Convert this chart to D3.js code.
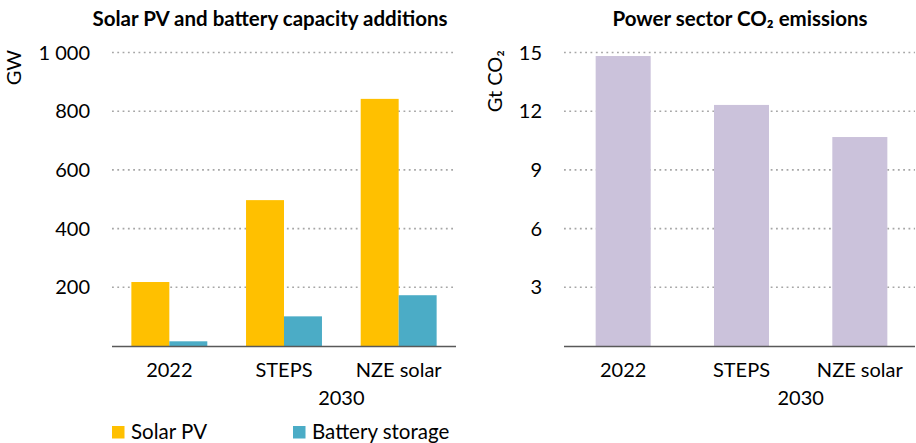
<!DOCTYPE html>
<html><head><meta charset="utf-8">
<script src="https://cdn.jsdelivr.net/npm/d3@7"></script>
<style>
body{margin:0;background:#fff;}
text{font-family:"Lato","Open Sans",sans-serif;fill:#000;}
</style></head>
<body><svg id="c" width="916" height="443"></svg>
<script>
const categories = ["2022", "STEPS", "NZE solar"];
const groupLabel = "2030";
const solarPV = [218, 497, 842];
const battery = [16, 101, 173];
const co2 = [14.82, 12.32, 10.68];
const leftTicks = [200, 400, 600, 800, 1000];
const rightTicks = [3, 6, 9, 12, 15];
const seriesNames = ["Solar PV", "Battery storage"];
const colors = {solar: "#FFC000", battery: "#4BACC6", co2: "#CBC2DB"};

const svg = d3.select("#c");
const y0 = 346, yTop = 52.5;
const fs = 20;

function panel(x0, x1, yMax, ticks, fmt, title, titleX, yLabel, yLabelX) {
  const g = svg.append("g");
  const y = d3.scaleLinear().domain([0, yMax]).range([y0, yTop]);
  const x = d3.scaleBand().domain(categories).range([x0, x1]);
  g.selectAll(".grid").data(ticks).enter().append("line")
    .attr("x1", x0).attr("x2", Math.min(x1, 915)).attr("y1", d => y(d)).attr("y2", d => y(d))
    .attr("stroke", "#a6a6a6").attr("stroke-width", 1.6).attr("stroke-dasharray", "1.8,3.5");
  g.selectAll(".yl").data(ticks).enter().append("text")
    .attr("x", x0 - 22).attr("y", d => y(d)).attr("dy", "0.35em").attr("text-anchor", "end")
    .style("font-size", fs + "px").text(fmt);
  g.append("text").attr("x", titleX).attr("y", 26).attr("text-anchor", "middle")
    .style("font-size", "20.5px").style("font-weight", "bold").text(title);
  g.append("text").attr("transform", `translate(${yLabelX},50) rotate(-90)`)
    .attr("text-anchor", "end").style("font-size", fs + "px").text(yLabel);
  return {g, x, y};
}

// Left panel
const L = panel(112, 456, 1000, leftTicks, d => d === 1000 ? "1 000" : d,
  "Solar PV and battery capacity additions", 270, "GW", 21);
const xs = d3.scaleBand().domain([0, 1]).range([0, L.x.bandwidth()]).paddingOuter(0.51);
const grp = L.g.selectAll(".grp").data(categories).enter().append("g")
  .attr("transform", d => `translate(${L.x(d)},0)`);
grp.append("rect").attr("x", xs(0)).attr("width", xs.bandwidth())
  .attr("y", (d, i) => L.y(solarPV[i])).attr("height", (d, i) => y0 - L.y(solarPV[i]))
  .attr("fill", colors.solar);
grp.append("rect").attr("x", xs(1)).attr("width", xs.bandwidth())
  .attr("y", (d, i) => L.y(battery[i])).attr("height", (d, i) => y0 - L.y(battery[i]))
  .attr("fill", colors.battery);

// Right panel
const R = panel(564, 919, 15, rightTicks, d => d,
  "Power sector CO\u2082 emissions", 740, "Gt CO\u2082", 502);
const xr = R.x.copy().paddingInner(0.535).paddingOuter(0.2675);
R.g.selectAll(".bar").data(categories).enter().append("rect")
  .attr("x", d => xr(d)).attr("width", xr.bandwidth())
  .attr("y", (d, i) => R.y(co2[i])).attr("height", (d, i) => y0 - R.y(co2[i]))
  .attr("fill", colors.co2);

// axes lines + category labels
[[L, 112, 456], [R, 564, 915]].forEach(([P, a, b]) => {
  P.g.append("line").attr("x1", a).attr("x2", b).attr("y1", y0 + 0.5).attr("y2", y0 + 0.5)
    .attr("stroke", "#595959").attr("stroke-width", 1.3);
  P.g.selectAll(".xl").data(categories).enter().append("text")
    .attr("x", d => P.x(d) + P.x.bandwidth() / 2).attr("y", 377).attr("text-anchor", "middle")
    .style("font-size", fs + "px").text(d => d);
  P.g.append("text")
    .attr("x", (P.x(categories[1]) + P.x(categories[2])) / 2 + P.x.bandwidth() / 2)
    .attr("y", 405).attr("text-anchor", "middle").style("font-size", fs + "px").text(groupLabel);
});

// legend
const leg = svg.append("g");
const legX = [112, 293];
const legC = [colors.solar, colors.battery];
seriesNames.forEach((n, i) => {
  leg.append("rect").attr("x", legX[i]).attr("y", 426).attr("width", 12.5).attr("height", 12.5).attr("fill", legC[i]);
  leg.append("text").attr("x", legX[i] + 19).attr("y", 439).style("font-size", "20.5px").text(n);
});
</script></body></html>
